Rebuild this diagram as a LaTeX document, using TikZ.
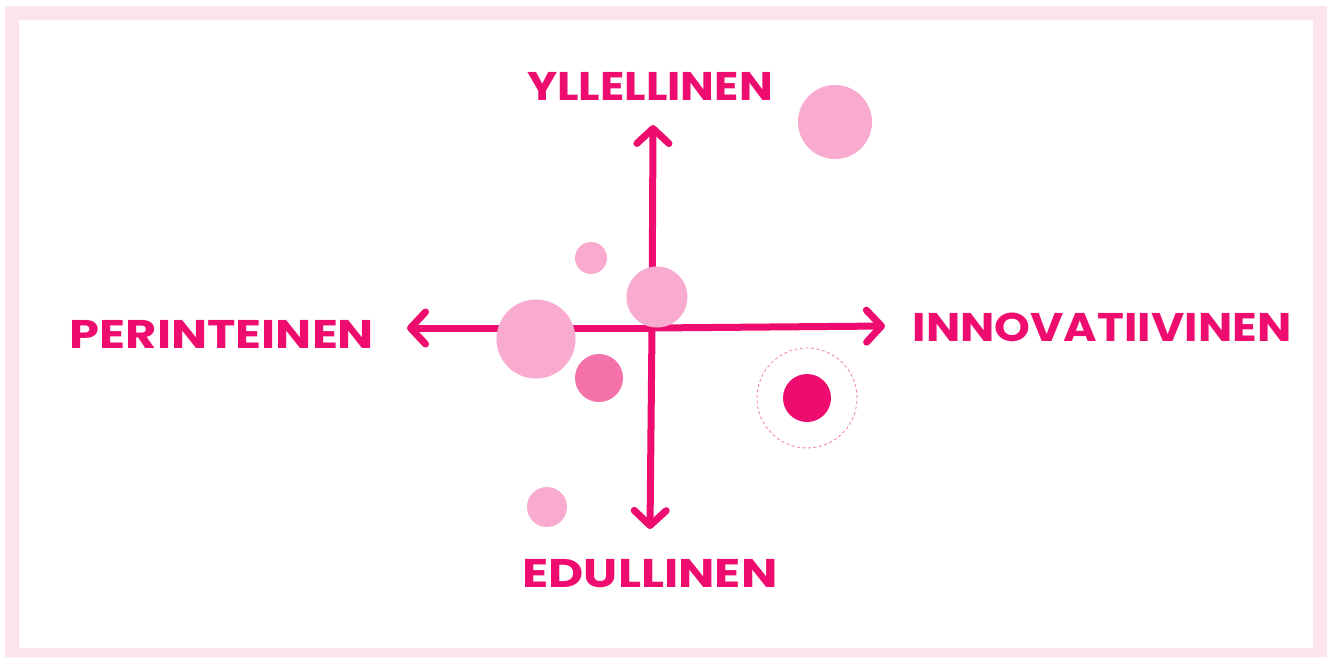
\documentclass[tikz,border=0pt]{standalone}
\usepackage{fontspec}
\setmainfont{Poppins}
\usetikzlibrary{arrows.meta}
\definecolor{axis}{HTML}{EE0C6F}
\definecolor{light}{HTML}{F8ABCE}
\definecolor{mid}{HTML}{F472A9}
\definecolor{frame}{HTML}{FCE4EE}
\definecolor{dash}{HTML}{F27DAE}
\tikzset{
  axisline/.style={draw=axis, line width=7pt, line cap=round,
    -{Straight Barb[length=15pt, width=32pt, round]}},
  dot/.style={circle, inner sep=0pt, minimum size=#1, draw=none},
  lab/.style={text=axis, font=\fontsize{40}{40}\selectfont\bfseries, inner sep=0pt, anchor=base},
}
\begin{document}
\begin{tikzpicture}[x=1pt,y=-1pt]
\useasboundingbox (0,0) rectangle (1327,657);
\fill[white] (0,0) rectangle (1327,657);
\fill[frame, even odd rule] (5,6) rectangle (1327,657) (19,20) rectangle (1313,648);
% axes
\coordinate (o) at (652,328);
\coordinate (top) at (653,125);
\coordinate (bot) at (650,529);
\coordinate (lft) at (407,328);
\coordinate (rgt) at (885,326);
\draw[axisline] (o) -- (top);
\draw[axisline] (o) -- (bot);
\draw[axisline] (o) -- (lft);
\draw[axisline] (o) -- (rgt);
% circles
\node[dot=74pt, fill=light] (c1) at (835,122) {};
\node[dot=32pt, fill=light] (c2) at (591,258) {};
\node[dot=61pt, fill=light] (c3) at (657,297) {};
\node[dot=79pt, fill=light] (c4) at (536,339) {};
\node[dot=48pt, fill=mid] (c5) at (599,378) {};
\node[dot=40pt, fill=light] (c6) at (547,507) {};
\node[dot=100pt, draw=dash, line width=0.8pt, dash pattern=on 3pt off 2.5pt] (ring) at (807,398) {};
\node[dot=48pt, fill=axis] (c7) at (807,398) {};
% labels
\node[lab] (ylel) at (650,100) {\scalebox{1.125}[1]{YLLELLINEN}};
\node[lab] (peri) at (222,348) {\scalebox{1.2}[1]{PERINTEINEN}};
\node[lab] (inno) at (1102,341) {\scalebox{1.14}[1]{INNOVATIIVINEN}};
\node[lab] (edul) at (650,587) {\scalebox{1.21}[1]{EDULLINEN}};
\end{tikzpicture}
\end{document}
